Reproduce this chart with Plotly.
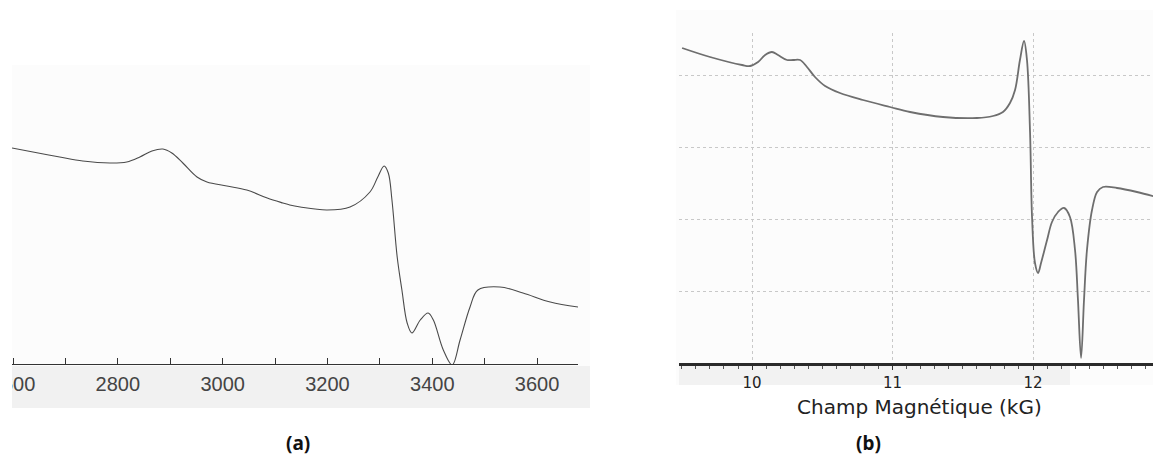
import plotly.graph_objects as go

# page body has an 8px margin, so the figure is drawn 8px in from the corner
OFF = 8
FW, FH = 1161 - OFF, 468 - OFF

# (a) scanned X-band spectrum, field in G, signal in arbitrary units
a_field = [2598, 2638, 2689, 2733, 2785, 2817, 2842, 2865, 2886, 2903, 2924, 2951,
           2970, 3008, 3046, 3085, 3115, 3128, 3148, 3199, 3243, 3281, 3296, 3308,
           3316, 3323, 3333, 3342, 3352, 3361, 3377, 3392, 3402, 3421, 3438, 3453,
           3472, 3487, 3529, 3573, 3625, 3678]
a_signal = [216, 212, 207, 203, 201, 202, 207, 213, 215, 211, 201, 187,
            182, 178, 174, 166, 161, 159, 157, 154, 157, 172, 187, 198,
            191, 164, 107, 74, 41, 31, 44, 51, 44, 14, -1, 24,
            57, 74, 77, 71, 62, 57]
a_ticks = [2600, 2700, 2800, 2900, 3000, 3100, 3200, 3300, 3400, 3500, 3600]
a_labels = ["2600", "", "2800", "", "3000", "", "3200", "", "3400", "", "3600"]

# (b) high-field spectrum, field in kG
b_field = [9.502, 9.701, 9.929, 9.986, 10.043, 10.093, 10.142, 10.185, 10.249, 10.292,
           10.342, 10.391, 10.448, 10.520, 10.626, 10.790, 10.982, 11.125, 11.359, 11.601,
           11.715, 11.786, 11.836, 11.872, 11.907, 11.936, 11.957, 11.979, 11.993, 12.014,
           12.036, 12.057, 12.100, 12.135, 12.178, 12.221, 12.263, 12.299, 12.320, 12.342,
           12.363, 12.384, 12.420, 12.456, 12.498, 12.598, 12.740, 12.904]
b_signal = [315, 306, 298, 297, 301, 308, 311, 308, 303, 303,
            303, 296, 286, 277, 270, 263, 256, 251, 246, 245,
            247, 251, 260, 273, 303, 322, 303, 230, 146, 100,
            90, 100, 123, 141, 151, 155, 146, 113, 63, 5,
            63, 113, 153, 171, 176, 175, 171, 165]
b_ticks = [10, 11, 12]


def px(x):
    return (x - OFF) / FW


def py(y):
    return 1 - (y - OFF) / FH


fig = go.Figure()
fig.add_trace(go.Scatter(x=a_field, y=a_signal, mode="lines", xaxis="x", yaxis="y",
                         line=dict(color="#4a4a4a", width=1.1), line_shape="spline",
                         hoverinfo="skip"))
fig.add_trace(go.Scatter(x=b_field, y=b_signal, mode="lines", xaxis="x2", yaxis="y2",
                         line=dict(color="#6e6e6e", width=1.8), line_shape="spline",
                         hoverinfo="skip"))

shapes = [
    # scanned paper look for (a)
    dict(type="rect", xref="paper", yref="paper", x0=px(12), x1=px(590), y0=py(408), y1=py(65),
         fillcolor="#fcfcfc", line=dict(width=0), layer="below"),
    dict(type="rect", xref="paper", yref="paper", x0=px(12), x1=px(590), y0=py(408), y1=py(366),
         fillcolor="#f1f1f1", line=dict(width=0), layer="below"),
    dict(type="rect", xref="paper", yref="paper", x0=px(676), x1=1, y0=py(385), y1=py(10),
         fillcolor="#fcfcfc", line=dict(width=0), layer="below"),
    dict(type="rect", xref="paper", yref="paper", x0=px(679), x1=px(1070), y0=py(385), y1=py(366),
         fillcolor="#f2f2f2", line=dict(width=0), layer="below"),
    # crop of the left edge of the scan
    dict(type="rect", xref="paper", yref="paper", x0=0, x1=px(12), y0=0, y1=1,
         fillcolor="white", line=dict(width=0), layer="above"),
]

annotations = [
    dict(text="Champ Magnétique (kG)", x=px(919), y=py(407), xref="paper", yref="paper",
         xanchor="center", yanchor="middle", showarrow=False,
         font=dict(family="DejaVu Sans", size=20, color="#222")),
    dict(text="<b>(a)</b>", x=px(298), y=py(443), xref="paper", yref="paper",
         xanchor="center", yanchor="middle", showarrow=False,
         font=dict(family="Noto Sans", size=19, color="#111")),
    dict(text="<b>(b)</b>", x=px(868), y=py(443), xref="paper", yref="paper",
         xanchor="center", yanchor="middle", showarrow=False,
         font=dict(family="Noto Sans", size=19, color="#111")),
]

fig.update_layout(
    width=FW, height=FH,
    margin=dict(l=0, r=0, t=0, b=0, autoexpand=False),
    paper_bgcolor="white", plot_bgcolor="rgba(0,0,0,0)",
    showlegend=False,
    shapes=shapes,
    annotations=annotations,
    xaxis=dict(domain=[px(12), px(578)], range=[2598, 3678], anchor="y",
               tickvals=a_ticks, ticktext=a_labels, ticks="inside", ticklen=6,
               tickcolor="#333", showline=True, linecolor="#333", linewidth=1.2,
               showgrid=False, zeroline=False, ticklabelstandoff=2,
               ticklabeloverflow="allow", automargin=False,
               tickfont=dict(family="Liberation Sans", size=20, color="#444")),
    yaxis=dict(domain=[py(364), py(64)], range=[0, 300], anchor="x",
               visible=False),
    xaxis2=dict(domain=[px(679), 1], range=[9.48, 12.911], anchor="y2",
                tickvals=b_ticks, ticks="outside", ticklen=4, tickwidth=1.2, tickcolor="#333",
                minor=dict(dtick=0.1, tick0=0, ticks="outside", ticklen=3, tickcolor="#555",
                           showgrid=False),
                showline=True, linecolor="#2a2a2a", linewidth=2.5,
                showgrid=True, gridcolor="#c8c8c8", griddash="dot", gridwidth=1,
                zeroline=False,
                tickfont=dict(family="DejaVu Sans", size=15, color="#222")),
    xaxis3=dict(domain=[px(679), 1], range=[9.48, 12.911], anchor="y2", overlaying="x2",
                tickvals=b_ticks, ticks="inside", ticklen=5, tickwidth=1.2, tickcolor="#333",
                minor=dict(dtick=0.1, tick0=0, ticks="inside", ticklen=3, tickcolor="#555"),
                showticklabels=False, showgrid=False, zeroline=False, showline=False),
    yaxis2=dict(domain=[py(363), py(33)], range=[0, 330], anchor="x2",
                tickvals=[72, 144, 216, 288], showticklabels=False, ticks="",
                showgrid=True, gridcolor="#c8c8c8", griddash="dot", gridwidth=1,
                zeroline=False, showline=False),
)

fig.write_html("out.html")
